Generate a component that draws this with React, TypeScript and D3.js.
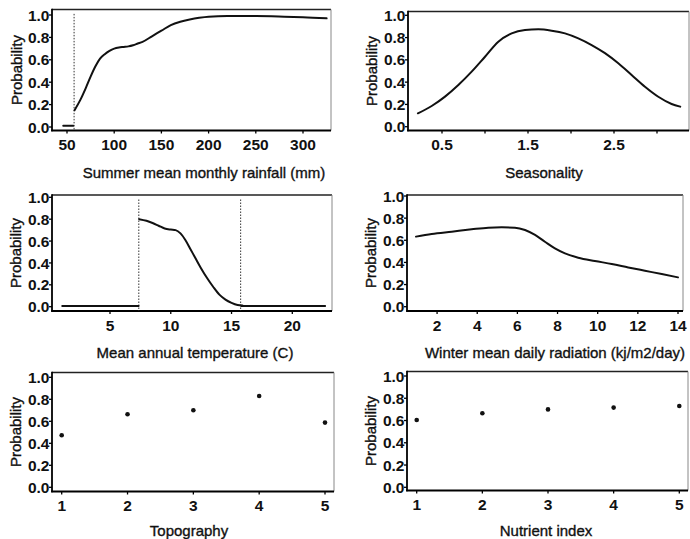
import React from "react";
import * as d3 from "d3";

// ---------- data ----------
const rainX = [58, 64, 70, 75, 80, 85, 90, 95, 100, 105, 110, 115, 120, 125, 130, 140, 150, 160, 170, 180, 190, 200, 220, 250, 280, 300, 325];
const rainY = [0.15, 0.24, 0.35, 0.45, 0.54, 0.61, 0.65, 0.68, 0.70, 0.71, 0.715, 0.72, 0.73, 0.745, 0.76, 0.81, 0.86, 0.91, 0.94, 0.96, 0.975, 0.985, 0.99, 0.99, 0.985, 0.98, 0.97];
const rainFlatX = [46, 56.6];
const rainFlatY = [0.012, 0.012];
const rainCut = [57.5];
const rainTicks = [50, 100, 150, 200, 250, 300];

const seasX = [0.22, 0.38, 0.535, 0.69, 0.845, 1.0, 1.155, 1.31, 1.465, 1.62, 1.775, 1.93, 2.085, 2.24, 2.395, 2.55, 2.705, 2.86, 3.015, 3.17, 3.27];
const seasY = [0.12, 0.186, 0.27, 0.374, 0.494, 0.628, 0.763, 0.838, 0.868, 0.874, 0.862, 0.838, 0.793, 0.733, 0.66, 0.569, 0.464, 0.359, 0.269, 0.204, 0.18];
const seasTicks = [0.5, 1.0, 1.5, 2.0, 2.5, 3.0];
const seasLabels = [0.5, 1.5, 2.5];

const tempX = [7.4, 8.0, 8.5, 9.0, 9.5, 10.0, 10.4, 10.8, 11.2, 11.6, 12.0, 12.5, 13.0, 13.5, 14.0, 14.5, 15.0, 15.5, 15.9];
const tempY = [0.80, 0.785, 0.765, 0.74, 0.715, 0.705, 0.70, 0.67, 0.61, 0.53, 0.45, 0.35, 0.26, 0.18, 0.11, 0.065, 0.035, 0.015, 0.01];
const tempFlatLowX = [1.07, 7.35];
const tempFlatHighX = [15.8, 22.7];
const tempFlatY = [0.006, 0.006];
const tempCuts = [7.37, 15.75];
const tempTicks = [5, 10, 15, 20];

const radX = [0.95, 1.73, 2.73, 3.72, 4.55, 5.22, 5.88, 6.38, 6.88, 7.37, 7.87, 8.37, 9.03, 9.86, 10.7, 11.52, 12.35, 13.19, 14.0];
const radY = [0.633, 0.657, 0.678, 0.699, 0.714, 0.717, 0.714, 0.693, 0.648, 0.587, 0.527, 0.482, 0.443, 0.413, 0.386, 0.355, 0.325, 0.295, 0.265];
const radTicks = [2, 4, 6, 8, 10, 12, 14];

const topoX = [1, 2, 3, 4, 5];
const topoY = [0.473, 0.664, 0.70, 0.83, 0.588];
const nutX = [1, 2, 3, 4, 5];
const nutY = [0.605, 0.665, 0.70, 0.716, 0.731];
const catTicks = [1, 2, 3, 4, 5];

const yTicks = [0, 0.2, 0.4, 0.6, 0.8, 1.0];

// ---------- layout ----------
const FONT = "'Liberation Sans', Arial, Helvetica, sans-serif";

type Panel = {
  box: [number, number, number, number]; // left, right, top, bottom
  xd: [number, number]; xr: [number, number];
  yr: [number, number];
  title: string; titleX: number; titleDy: number; ylabX: number;
  ticks: number[]; labels: number[]; fmt: (v: number) => string;
};

const panels: Panel[] = [
  { box: [52, 331, 9.5, 130.5], xd: [50, 300], xr: [67, 303], yr: [127, 15], title: "Summer mean monthly rainfall (mm)", titleX: 204, titleDy: 47, ylabX: 16, ticks: rainTicks, labels: rainTicks, fmt: (v) => String(v) },
  { box: [408, 689, 11.5, 130.5], xd: [0.5, 2.5], xr: [442, 614], yr: [126.7, 15.3], title: "Seasonality", titleX: 544, titleDy: 47, ylabX: 371.5, ticks: seasTicks, labels: seasLabels, fmt: (v) => v.toFixed(1) },
  { box: [52, 332, 195, 311], xd: [5, 20], xr: [110, 292.3], yr: [306.7, 197.3], title: "Mean annual temperature (C)", titleX: 195, titleDy: 46.5, ylabX: 15.5, ticks: tempTicks, labels: tempTicks, fmt: (v) => String(v) },
  { box: [407, 683, 195, 311], xd: [1, 14], xr: [417, 678], yr: [306.7, 196], title: "Winter mean daily radiation (kj/m2/day)", titleX: 555, titleDy: 46.5, ylabX: 370.5, ticks: radTicks, labels: radTicks, fmt: (v) => String(v) },
  { box: [52, 334, 372.5, 491.5], xd: [1, 5], xr: [61.7, 325], yr: [487.3, 377.3], title: "Topography", titleX: 189, titleDy: 44, ylabX: 15.5, ticks: catTicks, labels: catTicks, fmt: (v) => String(v) },
  { box: [407, 688, 371.5, 490.5], xd: [1, 5], xr: [416.7, 679.3], yr: [487.3, 376], title: "Nutrient index", titleX: 546, titleDy: 45, ylabX: 370.5, ticks: catTicks, labels: catTicks, fmt: (v) => String(v) },
];

function zip(xs: number[], ys: number[]): [number, number][] {
  return xs.map((x, i) => [x, ys[i]]);
}

function Frame({ p, children }: { p: Panel; children: (x: d3.ScaleLinear<number, number>, y: d3.ScaleLinear<number, number>) => React.ReactNode }) {
  const [l, r, t, b] = p.box;
  const x = d3.scaleLinear().domain(p.xd).range(p.xr);
  const y = d3.scaleLinear().domain([0, 1]).range(p.yr);
  return (
    <g>
      {/* frame */}
      <line x1={l} x2={r} y1={t} y2={t} stroke="#222" strokeWidth={1.3} />
      <line x1={r} x2={r} y1={t} y2={b} stroke="#888" strokeWidth={1} />
      <line x1={l} x2={l} y1={t - 0.7} y2={b + 0.8} stroke="#000" strokeWidth={1.8} />
      <line x1={l - 0.8} x2={r} y1={b} y2={b} stroke="#000" strokeWidth={1.8} />
      {/* y ticks */}
      {yTicks.map((v) => (
        <g key={"y" + v}>
          <line x1={l - 3} x2={l} y1={y(v)} y2={y(v)} stroke="#000" strokeWidth={1.3} />
          <text x={l - 2.5} y={y(v)} dy="0.36em" textAnchor="end" fontFamily={FONT} fontWeight="bold" fontSize={15.5} fill="#111">
            {d3.format(".1f")(v)}
          </text>
        </g>
      ))}
      {/* x ticks */}
      {p.ticks.map((v) => (
        <line key={"xt" + v} x1={x(v)} x2={x(v)} y1={b} y2={b + 3} stroke="#000" strokeWidth={1.3} />
      ))}
      {p.labels.map((v) => (
        <text key={"xl" + v} x={x(v)} y={b + 19.5} textAnchor="middle" fontFamily={FONT} fontWeight="bold" fontSize={15.5} fill="#111">
          {p.fmt(v)}
        </text>
      ))}
      <text x={p.titleX} y={b + p.titleDy} textAnchor="middle" fontFamily={FONT} fontSize={15} fill="#111" stroke="#111" strokeWidth={0.35}>
        {p.title}
      </text>
      <text transform={`translate(${p.ylabX},${(t + b) / 2}) rotate(-90)`} textAnchor="middle" dominantBaseline="central" fontFamily={FONT} fontSize={15} fill="#111" stroke="#111" strokeWidth={0.35}>
        Probability
      </text>
      {children(x, y)}
    </g>
  );
}

export default function App() {
  const curve = (x: d3.ScaleLinear<number, number>, y: d3.ScaleLinear<number, number>) =>
    d3.line<[number, number]>().x((d) => x(d[0])).y((d) => y(d[1])).curve(d3.curveMonotoneX);
  const lineStyle = { fill: "none", stroke: "#111", strokeWidth: 2, strokeLinejoin: "round" as const, strokeLinecap: "round" as const };
  const cutStyle = { stroke: "#333", strokeWidth: 1, strokeDasharray: "1.5,1.5" };

  return (
    <svg width={690} height={539} viewBox="0 0 690 539" style={{ position: "absolute", left: 0, top: 0, background: "#fff" }}>
      <rect x={0} y={0} width={690} height={539} fill="#fff" />
      <Frame p={panels[0]}>
        {(x, y) => (
          <g>
            {rainCut.map((c) => (
              <line key={c} x1={x(c)} x2={x(c)} y1={y(1.01)} y2={panels[0].box[3]} {...cutStyle} />
            ))}
            <path d={curve(x, y)(zip(rainFlatX, rainFlatY)) || ""} {...lineStyle} />
            <path d={curve(x, y)(zip(rainX, rainY)) || ""} {...lineStyle} />
          </g>
        )}
      </Frame>
      <Frame p={panels[1]}>
        {(x, y) => <path d={curve(x, y)(zip(seasX, seasY)) || ""} {...lineStyle} />}
      </Frame>
      <Frame p={panels[2]}>
        {(x, y) => (
          <g>
            {tempCuts.map((c) => (
              <line key={c} x1={x(c)} x2={x(c)} y1={y(0.98)} y2={panels[2].box[3]} {...cutStyle} />
            ))}
            <path d={curve(x, y)(zip(tempFlatLowX, tempFlatY)) || ""} {...lineStyle} />
            <path d={curve(x, y)(zip(tempFlatHighX, tempFlatY)) || ""} {...lineStyle} />
            <path d={curve(x, y)(zip(tempX, tempY)) || ""} {...lineStyle} />
          </g>
        )}
      </Frame>
      <Frame p={panels[3]}>
        {(x, y) => <path d={curve(x, y)(zip(radX, radY)) || ""} {...lineStyle} />}
      </Frame>
      <Frame p={panels[4]}>
        {(x, y) => (
          <g>
            {topoX.map((v, i) => (
              <circle key={v} cx={x(v)} cy={y(topoY[i])} r={2.3} fill="#111" />
            ))}
          </g>
        )}
      </Frame>
      <Frame p={panels[5]}>
        {(x, y) => (
          <g>
            {nutX.map((v, i) => (
              <circle key={v} cx={x(v)} cy={y(nutY[i])} r={2.3} fill="#111" />
            ))}
          </g>
        )}
      </Frame>
    </svg>
  );
}
